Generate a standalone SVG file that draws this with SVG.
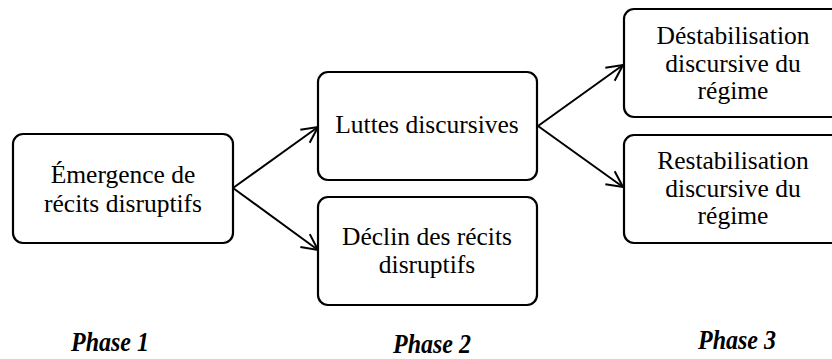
<svg xmlns="http://www.w3.org/2000/svg" width="832" height="359" viewBox="0 0 832 359">
<style>
.box{fill:#fff;stroke:#000;stroke-width:2.2}
.t{font-family:"Times New Roman","Liberation Serif",Tinos,serif;font-size:25.5px;fill:#000;text-anchor:middle}
.ph{font-family:"Times New Roman","Liberation Serif",Tinos,serif;font-size:24px;font-weight:bold;font-style:italic;fill:#000;text-anchor:middle}
.c{fill:none;stroke:#000;stroke-width:2}
</style>
<defs>
<marker id="ah" viewBox="0 0 20 20" refX="19" refY="10" markerWidth="20" markerHeight="20" markerUnits="userSpaceOnUse" orient="auto">
<path d="M3,2 L19,10 L3,18" fill="none" stroke="#000" stroke-width="2"/>
</marker>
</defs>
<rect width="832" height="359" fill="#fff"/>
<g id="connectors">
<line class="c" x1="233" y1="188" x2="318" y2="127" marker-end="url(#ah)"/>
<line class="c" x1="233" y1="188" x2="318" y2="250" marker-end="url(#ah)"/>
<line class="c" x1="538" y1="126" x2="623" y2="65" marker-end="url(#ah)"/>
<line class="c" x1="538" y1="126" x2="623" y2="187" marker-end="url(#ah)"/>
</g>
<g id="n1">
<rect class="box" x="13" y="134" width="220" height="109" rx="10"/>
<text class="t" x="123" y="183">Émergence de</text>
<text class="t" x="123" y="212">récits disruptifs</text>
</g>
<g id="n2">
<rect class="box" x="318" y="72" width="219" height="108" rx="10"/>
<text class="t" x="427" y="133">Luttes discursives</text>
</g>
<g id="n3">
<rect class="box" x="318" y="197" width="219" height="108" rx="10"/>
<text class="t" x="427" y="245">Déclin des récits</text>
<text class="t" x="427" y="273">disruptifs</text>
</g>
<g id="n4">
<rect class="box" x="624" y="9" width="225" height="108" rx="10"/>
<text class="t" x="733" y="44">Déstabilisation</text>
<text class="t" x="733" y="72">discursive du</text>
<text class="t" x="733" y="99">régime</text>
</g>
<g id="n5">
<rect class="box" x="624" y="135" width="225" height="108" rx="10"/>
<text class="t" x="733" y="169">Restabilisation</text>
<text class="t" x="733" y="197">discursive du</text>
<text class="t" x="733" y="224">régime</text>
</g>
<g id="phases">
<text class="ph" transform="translate(110,351) scale(1,1.15)">Phase 1</text>
<text class="ph" transform="translate(432,353) scale(1,1.15)">Phase 2</text>
<text class="ph" transform="translate(737,349) scale(1,1.15)">Phase 3</text>
</g>
</svg>
